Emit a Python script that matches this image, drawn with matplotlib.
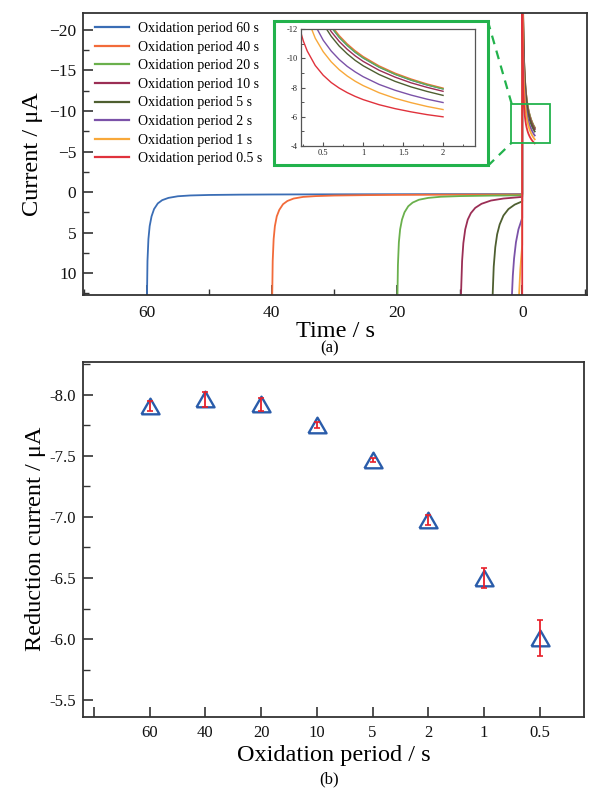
import numpy as np
import matplotlib
matplotlib.use('Agg')
import matplotlib.pyplot as plt
from matplotlib.patches import Rectangle
from matplotlib.lines import Line2D
from matplotlib.ticker import MultipleLocator, FuncFormatter

plt.rcParams['font.family'] = ['Liberation Serif', 'DejaVu Serif']

# ---------------- data ----------------
periods = [60, 40, 20, 10, 5, 2, 1, 0.5]
series_labels = ['Oxidation period 60 s', 'Oxidation period 40 s', 'Oxidation period 20 s',
                 'Oxidation period 10 s', 'Oxidation period 5 s', 'Oxidation period 2 s',
                 'Oxidation period 1 s', 'Oxidation period 0.5 s']
colors = ['#3a6db5', '#f26b3a', '#6ab04c', '#9b2e55', '#4e5f30', '#7b52a8', '#f8a83a', '#e0323c']

# oxidation phase: time since start of oxidation (s) and current (uA)
ox_time = [
    [0, 0.05, 0.15, 0.3, 0.5, 0.8, 1.2, 1.8, 2.5, 3.5, 5, 7, 10, 15, 20, 30, 45, 60],
    [0, 0.05, 0.15, 0.3, 0.5, 0.8, 1.2, 1.8, 2.5, 3.5, 5, 7, 10, 15, 20, 30, 40],
    [0, 0.05, 0.15, 0.3, 0.5, 0.8, 1.2, 1.8, 2.5, 3.5, 5, 7, 10, 15, 20],
    [0, 0.1, 0.22, 0.4, 0.6, 0.9, 1.3, 1.8, 2.5, 3.5, 5, 7, 10],
    [0, 0.1, 0.28, 0.45, 0.7, 1.0, 1.4, 2.0, 2.8, 3.8, 5],
    [0, 0.1, 0.2, 0.36, 0.5, 0.7, 1.0, 1.4, 2.0],
    [0, 0.1, 0.25, 0.5, 0.7, 1.0],
    [0, 0.1, 0.25, 0.5],
]
ox_current = [
    [40, 14, 8.5, 5.8, 4.2, 3.0, 2.1, 1.4, 1.0, 0.72, 0.52, 0.42, 0.36, 0.32, 0.30, 0.28, 0.26, 0.25],
    [40, 14, 8.5, 5.8, 4.2, 3.0, 2.2, 1.5, 1.1, 0.8, 0.6, 0.5, 0.43, 0.38, 0.35, 0.32, 0.30],
    [40, 14, 9.0, 6.2, 4.6, 3.4, 2.5, 1.75, 1.3, 0.95, 0.72, 0.58, 0.5, 0.44, 0.4],
    [40, 18, 12.7, 8.5, 6.3, 4.6, 3.4, 2.6, 1.95, 1.45, 1.05, 0.8, 0.6],
    [40, 20, 12.7, 9.2, 6.8, 5.2, 4.0, 2.9, 2.1, 1.55, 1.15],
    [40, 24, 17, 12.7, 10.3, 8.2, 6.2, 4.6, 3.2],
    [40, 28, 19, 12.7, 9.5, 6.5],
    [40, 30, 22, 14],
]

# reduction phase: time since start of reduction (s) and current (uA)
red_time = [0.0, 0.02, 0.05, 0.1, 0.15, 0.2, 0.25, 0.3, 0.4, 0.5, 0.6, 0.7, 0.8, 0.9,
            1.0, 1.2, 1.4, 1.6, 1.8, 2.0]
red_current = [
    [-60, -54.1, -35.2, -25.70, -21.50, -18.99, -17.28, -16.02, -14.24, -13.03, -12.14, -11.44,
     -10.89, -10.42, -10.03, -9.40, -8.91, -8.51, -8.18, -7.91],
    [-60, -54.9, -35.7, -26.06, -21.79, -19.24, -17.50, -16.22, -14.41, -13.18, -12.27, -11.57,
     -11.00, -10.53, -10.13, -9.49, -8.99, -8.59, -8.25, -7.97],
    [-60, -54.2, -35.3, -25.77, -21.55, -19.04, -17.32, -16.05, -14.27, -13.06, -12.17, -11.47,
     -10.91, -10.44, -10.05, -9.42, -8.92, -8.53, -8.20, -7.92],
    [-60, -52.3, -34.1, -24.93, -20.87, -18.45, -16.80, -15.58, -13.87, -12.70, -11.84, -11.17,
     -10.63, -10.18, -9.80, -9.19, -8.72, -8.33, -8.02, -7.75],
    [-60, -51.6, -33.6, -24.5, -20.46, -18.07, -16.43, -15.22, -13.53, -12.37, -11.52, -10.85,
     -10.32, -9.87, -9.50, -8.90, -8.43, -8.05, -7.74, -7.47],
    [-60, -45.4, -29.7, -21.81, -18.31, -16.22, -14.79, -13.74, -12.26, -11.25, -10.51, -9.93,
     -9.46, -9.08, -8.75, -8.22, -7.82, -7.49, -7.21, -6.98],
    [-60, -42.1, -27.6, -20.25, -17.0, -15.06, -13.74, -12.77, -11.39, -10.46, -9.77, -9.23,
     -8.80, -8.44, -8.14, -7.65, -7.27, -6.97, -6.71, -6.50],
    [-60, -31.6, -21.2, -15.9, -13.56, -12.16, -11.21, -10.51, -9.52, -8.85, -8.35, -7.97,
     -7.66, -7.40, -7.18, -6.83, -6.56, -6.34, -6.15, -6.00],
]

# panel (b)
period_ticklabels = ['', '60', '40', '20', '10', '5', '2', '1', '0.5']
reduction_mean = [-7.905, -7.962, -7.920, -7.755, -7.465, -6.975, -6.500, -6.010]
reduction_err = [0.040, 0.060, 0.055, 0.025, 0.018, 0.040, 0.085, 0.150]

# ---------------- figure ----------------
W, H = 602, 797
fig = plt.figure(figsize=(W / 100, H / 100), dpi=100)

def frac(x0, y0, x1, y1):
    return [x0 / W, 1 - y1 / H, (x1 - x0) / W, (y1 - y0) / H]

frame_col = '#333333'
green = '#22b24c'

ax1 = fig.add_axes(frac(83.3, 13.3, 586.7, 295))
for i, p in enumerate(periods):
    x = np.concatenate([p - np.array(ox_time[i]), -np.array(red_time)])
    y = np.concatenate([np.array(ox_current[i]), np.array(red_current[i])])
    ax1.plot(x, y, color=colors[i], lw=1.3, label=series_labels[i])
ax1.set_xlim(70.1, -10.3)
ax1.set_ylim(12.7, -22.05)
ax1.xaxis.set_major_locator(MultipleLocator(20))
ax1.xaxis.set_minor_locator(MultipleLocator(10))
ax1.yaxis.set_major_locator(MultipleLocator(5))
ax1.yaxis.set_minor_locator(MultipleLocator(2.5))
ax1.tick_params(which='both', direction='in', labelsize=12.5, colors=frame_col, labelcolor='#111111')
ax1.tick_params(which='major', length=7, width=1.2)
ax1.tick_params(which='minor', length=4, width=1.0)
ax1.tick_params(axis='x', pad=7)
ax1.tick_params(axis='y', pad=5)
for s in ax1.spines.values():
    s.set_linewidth(1.3)
    s.set_color(frame_col)
ax1.set_xlabel('Time / s', fontsize=17.5, labelpad=0)
ax1.set_ylabel('Current / μA', fontsize=17.5)
ax1.yaxis.set_label_coords(-0.08, 0.5)
leg = ax1.legend(loc='upper left', bbox_to_anchor=(0.013, 0.988), frameon=False,
                 fontsize=10, handlelength=2.4, handletextpad=0.7, labelspacing=0.4,
                 borderaxespad=0, borderpad=0.4)
for h in leg.get_lines():
    h.set_linewidth(1.6)

# zoom box on main axes
ax1.add_patch(Rectangle((1.8, -10.9), -6.3, 4.8, fill=False, ec=green, lw=1.3, zorder=5))

# big green frame around inset
fig.add_artist(Rectangle((274 / W, 1 - 165 / H), (487.7 - 274) / W, (165 - 20.7) / H,
                         transform=fig.transFigure, fill=False, ec=green, lw=2.2))
fig.add_artist(Line2D([487.7 / W, 511.7 / W], [1 - 20.7 / H, 1 - 104 / H],
                      transform=fig.transFigure, color=green, lw=1.6, ls=(0, (4, 3))))
fig.add_artist(Line2D([487.7 / W, 511.7 / W], [1 - 166 / H, 1 - 142.7 / H],
                      transform=fig.transFigure, color=green, lw=1.6, ls=(0, (4, 3))))

axin = fig.add_axes(frac(300.7, 29.3, 475, 146))
for i, p in enumerate(periods):
    axin.plot(red_time, red_current[i], color=colors[i], lw=1.0)
axin.set_xlim(0.218, 2.40)
axin.set_ylim(-4, -12)
axin.xaxis.set_major_locator(MultipleLocator(0.5))
axin.xaxis.set_minor_locator(MultipleLocator(0.25))
axin.yaxis.set_major_locator(MultipleLocator(2))
axin.yaxis.set_minor_locator(MultipleLocator(1))
axin.xaxis.set_major_formatter(FuncFormatter(lambda v, _: f'{v:g}'))
axin.yaxis.set_major_formatter(FuncFormatter(lambda v, _: f'{v:g}'.replace('\u2212', '-')))
axin.tick_params(which='both', direction='in', labelsize=6, colors='#555555', labelcolor='#222222')
axin.tick_params(which='major', length=3, width=0.8, pad=2)
axin.tick_params(which='minor', length=1.8, width=0.7)
for s in axin.spines.values():
    s.set_linewidth(0.9)
    s.set_color('#555555')

fig.text(330 / W, 1 - 348.5 / H, '(a)', ha='center', va='center', fontsize=12)

# ---------------- panel (b) ----------------
ax2 = fig.add_axes(frac(82.7, 361.7, 584.3, 716.7))
xpos = np.arange(1, len(reduction_mean) + 1)
tri = [(-1, -0.866), (1, -0.866), (0, 0.866), (-1, -0.866)]
ax2.plot(xpos, reduction_mean, ls='none', marker=tri, markersize=13, mfc='none',
         mec='#2a5caa', mew=1.7, zorder=2)
ax2.errorbar(xpos, reduction_mean, yerr=reduction_err, fmt='none', ecolor='#e8202a',
             elinewidth=1.3, capsize=2.4, capthick=1.2, zorder=3)
ax2.set_xlim(-0.2, 8.8)
ax2.set_ylim(-5.365, -8.27)
ax2.set_xticks(range(len(period_ticklabels)))
ax2.set_xticklabels(period_ticklabels)
ax2.yaxis.set_major_locator(MultipleLocator(0.5))
ax2.yaxis.set_minor_locator(MultipleLocator(0.25))
ax2.yaxis.set_major_formatter(FuncFormatter(lambda v, _: f'{v:.1f}'))
ax2.tick_params(which='both', direction='in', labelsize=12, colors=frame_col, labelcolor='#111111')
ax2.tick_params(which='major', length=7, width=1.2)
ax2.tick_params(which='minor', length=5, width=1.0)
ax2.tick_params(axis='x', pad=6)
ax2.tick_params(axis='y', pad=5)
for s in ax2.spines.values():
    s.set_linewidth(1.3)
    s.set_color(frame_col)
ax2.set_xlabel('Oxidation period / s', fontsize=17.5, labelpad=3)
ax2.set_ylabel('Reduction current / μA', fontsize=17.5)
ax2.yaxis.set_label_coords(-0.073, 0.5)

fig.text(329 / W, 1 - 779 / H, '(b)', ha='center', va='center', fontsize=12)

fig.savefig('out.png', dpi=100)
